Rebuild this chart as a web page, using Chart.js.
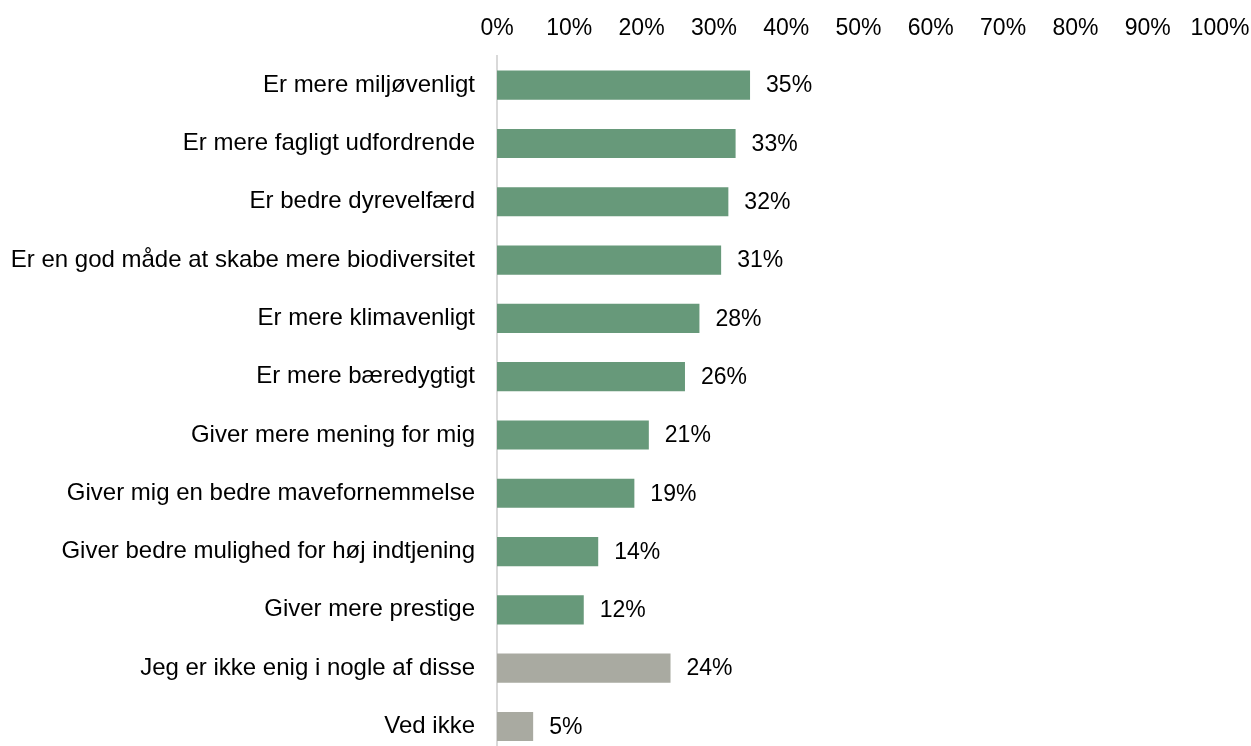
<!DOCTYPE html>
<html>
<head>
<meta charset="utf-8">
<script src="https://cdn.jsdelivr.net/npm/chart.js@4/dist/chart.umd.min.js"></script>
<style>
html,body{margin:0;padding:0;overflow:hidden;background:#fff;}
canvas{display:block;}
</style>
</head>
<body>
<canvas id="c" width="1251" height="792" style="width:1251px;height:792px;"></canvas>
<script>
const categories = [
  "Er mere miljøvenligt",
  "Er mere fagligt udfordrende",
  "Er bedre dyrevelfærd",
  "Er en god måde at skabe mere biodiversitet",
  "Er mere klimavenligt",
  "Er mere bæredygtigt",
  "Giver mere mening for mig",
  "Giver mig en bedre mavefornemmelse",
  "Giver bedre mulighed for høj indtjening",
  "Giver mere prestige",
  "Jeg er ikke enig i nogle af disse",
  "Ved ikke"
];
const values = [35, 33, 32, 31, 28, 26, 21, 19, 14, 12, 24, 5];
const barColors = ["#67997A","#67997A","#67997A","#67997A","#67997A","#67997A","#67997A","#67997A","#67997A","#67997A","#A9AAA1","#A9AAA1"];
const xTicks = [0,10,20,30,40,50,60,70,80,90,100];

const FONT = "'Liberation Sans', Arial, sans-serif";

const valueLabels = {
  id: 'valueLabels',
  afterDatasetsDraw(chart) {
    const ctx = chart.ctx;
    const meta = chart.getDatasetMeta(0);
    ctx.save();
    ctx.font = "23px " + FONT;
    ctx.fillStyle = "#000";
    ctx.textAlign = "left";
    ctx.textBaseline = "middle";
    meta.data.forEach((bar, i) => {
      ctx.fillText(values[i] + "%", bar.x + 16, bar.y + 1);
    });
    ctx.restore();
  }
};

new Chart(document.getElementById('c'), {
  type: 'bar',
  data: {
    labels: categories,
    datasets: [{
      data: values,
      backgroundColor: barColors,
      borderWidth: 0,
      categoryPercentage: 1,
      barPercentage: 0.5
    }]
  },
  options: {
    indexAxis: 'y',
    responsive: false,
    animation: false,
    layout: { padding: { left: 0, right: 31, top: 0, bottom: 0 } },
    plugins: { legend: { display: false }, tooltip: { enabled: false } },
    scales: {
      x: {
        position: 'top',
        min: 0, max: 100,
        afterBuildTicks(scale) { scale.ticks = xTicks.map(v => ({ value: v })); },
        afterFit(scale) { scale.height = 56; scale.paddingLeft = 0; scale.paddingRight = 0; },
        grid: { display: false, drawTicks: false },
        border: { display: false },
        ticks: {
          padding: 14,
          color: "#000",
          font: { family: FONT, size: 23 },
          maxRotation: 0,
          autoSkip: false,
          callback: v => v + "%"
        }
      },
      y: {
        afterFit(scale) { scale.width = 497; },
        grid: { display: false, drawTicks: false },
        border: { display: true, color: "#D9D9D9", width: 2 },
        ticks: {
          padding: 22,
          color: "#000",
          autoSkip: false,
          font: { family: FONT, size: 24 }
        }
      }
    }
  },
  plugins: [valueLabels]
});
</script>
</body>
</html>
